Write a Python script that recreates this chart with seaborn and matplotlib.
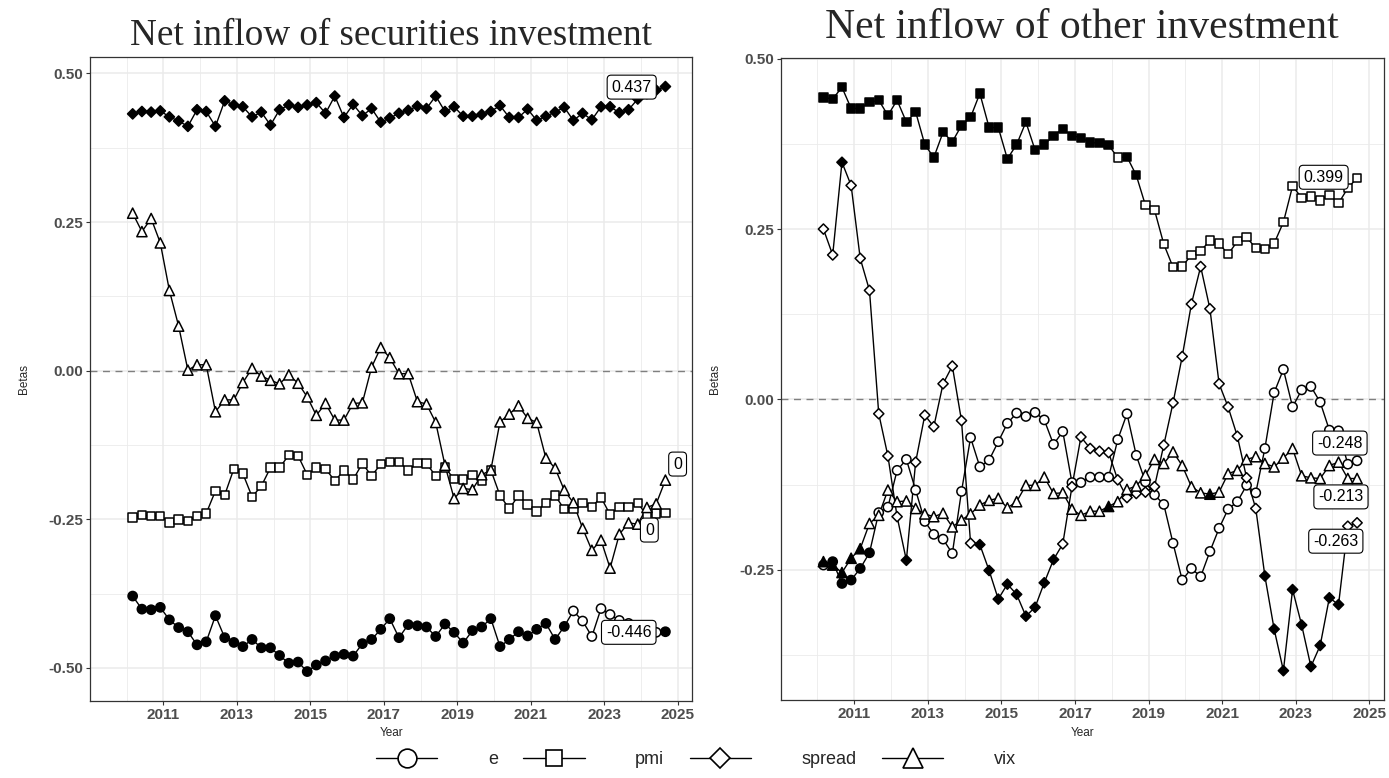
import numpy as np
import pandas as pd
import matplotlib
matplotlib.use("Agg")
import matplotlib.pyplot as plt
import seaborn as sns
from matplotlib.lines import Line2D
from matplotlib.ticker import FixedLocator

sns.set_theme(style="white")
plt.rcParams['font.family'] = ['Liberation Sans', 'DejaVu Sans']

# ---------------- data ----------------
dates = pd.date_range("2010-03-01", periods=59, freq="3MS")
xyear = dates.year + (dates.dayofyear - 1) / 365.25

# Net inflow of securities investment
sec_e = [-0.379, -0.401, -0.402, -0.398, -0.419, -0.432, -0.439, -0.461, -0.456, -0.412,
         -0.449, -0.457, -0.464, -0.452, -0.466, -0.466, -0.479, -0.492, -0.490, -0.506,
         -0.495, -0.488, -0.480, -0.477, -0.480, -0.459, -0.452, -0.435, -0.417, -0.449,
         -0.427, -0.429, -0.431, -0.447, -0.426, -0.440, -0.458, -0.437, -0.431, -0.417,
         -0.464, -0.452, -0.439, -0.446, -0.435, -0.425, -0.452, -0.430, -0.404, -0.421,
         -0.447, -0.400, -0.410, -0.420, -0.425, -0.430, -0.435, -0.440, -0.439]
sec_e_sig = [1] * 48 + [0] * 10 + [1]
sec_pmi = [-0.247, -0.243, -0.244, -0.244, -0.255, -0.250, -0.253, -0.244, -0.240, -0.202,
           -0.209, -0.165, -0.173, -0.212, -0.194, -0.163, -0.163, -0.142, -0.143, -0.175,
           -0.163, -0.165, -0.185, -0.168, -0.183, -0.156, -0.177, -0.157, -0.153, -0.153,
           -0.168, -0.155, -0.156, -0.177, -0.163, -0.182, -0.183, -0.175, -0.185, -0.167,
           -0.210, -0.232, -0.210, -0.225, -0.237, -0.222, -0.210, -0.233, -0.233, -0.223,
           -0.229, -0.213, -0.242, -0.229, -0.229, -0.222, -0.244, -0.240, -0.239]
sec_pmi_sig = [0] * 59
sec_spread = [0.432, 0.436, 0.435, 0.437, 0.427, 0.420, 0.411, 0.439, 0.436, 0.411,
              0.454, 0.447, 0.444, 0.427, 0.435, 0.413, 0.439, 0.447, 0.443, 0.447,
              0.451, 0.433, 0.462, 0.426, 0.448, 0.429, 0.441, 0.418, 0.425, 0.433,
              0.438, 0.445, 0.441, 0.462, 0.436, 0.444, 0.428, 0.428, 0.431, 0.436,
              0.446, 0.426, 0.426, 0.440, 0.421, 0.428, 0.435, 0.443, 0.421, 0.433,
              0.422, 0.444, 0.444, 0.434, 0.439, 0.457, 0.466, 0.472, 0.478]
sec_spread_sig = [1] * 59
sec_vix = [0.265, 0.234, 0.256, 0.215, 0.135, 0.075, 0.001, 0.010, 0.010, -0.069,
           -0.049, -0.049, -0.020, 0.004, -0.009, -0.016, -0.022, -0.007, -0.021, -0.044,
           -0.075, -0.055, -0.083, -0.083, -0.055, -0.054, 0.006, 0.039, 0.022, -0.005,
           -0.005, -0.052, -0.056, -0.087, -0.159, -0.215, -0.198, -0.200, -0.175, -0.167,
           -0.086, -0.073, -0.059, -0.080, -0.087, -0.147, -0.164, -0.201, -0.222, -0.265,
           -0.302, -0.285, -0.332, -0.275, -0.256, -0.258, -0.230, -0.224, -0.184]
sec_vix_sig = [0] * 59
sec_labels = ["0.437", "0", "0", "-0.446"]
sec_label_x = [2023.75, 2025.0, 2024.23, 2023.67]
sec_label_y = [0.477, -0.157, -0.268, -0.440]

# Net inflow of other investment
oth_e = [-0.243, -0.238, -0.270, -0.265, -0.248, -0.225, -0.166, -0.158, -0.104, -0.088,
         -0.133, -0.179, -0.198, -0.205, -0.226, -0.135, -0.056, -0.099, -0.089, -0.062,
         -0.035, -0.020, -0.025, -0.019, -0.030, -0.066, -0.047, -0.122, -0.122, -0.114,
         -0.114, -0.114, -0.059, -0.021, -0.082, -0.121, -0.140, -0.154, -0.211, -0.265,
         -0.248, -0.260, -0.223, -0.189, -0.161, -0.150, -0.126, -0.137, -0.072, 0.010,
         0.044, -0.011, 0.014, 0.019, -0.004, -0.045, -0.046, -0.095, -0.090]
oth_e_sig = [0, 1, 1, 1, 1, 1] + [0] * 53
oth_pmi = [0.443, 0.441, 0.458, 0.427, 0.427, 0.436, 0.439, 0.417, 0.439, 0.407,
           0.422, 0.374, 0.355, 0.392, 0.378, 0.402, 0.414, 0.449, 0.399, 0.399,
           0.353, 0.374, 0.407, 0.366, 0.374, 0.387, 0.397, 0.387, 0.384, 0.377,
           0.376, 0.373, 0.355, 0.356, 0.329, 0.285, 0.278, 0.228, 0.194, 0.195,
           0.212, 0.218, 0.233, 0.229, 0.213, 0.232, 0.238, 0.222, 0.221, 0.229,
           0.260, 0.313, 0.296, 0.298, 0.292, 0.300, 0.288, 0.310, 0.325]
oth_pmi_sig = [1] * 32 + [0, 1, 1] + [0] * 24
oth_spread = [0.250, 0.212, 0.348, 0.314, 0.207, 0.160, -0.021, -0.083, -0.172, -0.236,
              -0.092, -0.023, -0.040, 0.023, 0.049, -0.031, -0.211, -0.213, -0.251, -0.293,
              -0.271, -0.286, -0.318, -0.305, -0.269, -0.235, -0.212, -0.128, -0.055, -0.072,
              -0.076, -0.078, -0.118, -0.144, -0.138, -0.136, -0.128, -0.067, -0.005, 0.063,
              0.140, 0.195, 0.133, 0.023, -0.011, -0.054, -0.115, -0.160, -0.259, -0.337,
              -0.398, -0.279, -0.331, -0.392, -0.361, -0.291, -0.301, -0.186, -0.181]
oth_spread_sig = ([0, 0, 1, 0, 0, 0, 0, 0, 0, 1] + [0] * 7 + [1] * 9 + [0] * 22
                  + [1] * 9 + [0, 0])
oth_vix = [-0.238, -0.243, -0.254, -0.233, -0.219, -0.182, -0.170, -0.133, -0.150, -0.149,
           -0.160, -0.168, -0.172, -0.167, -0.187, -0.177, -0.168, -0.155, -0.148, -0.145,
           -0.159, -0.150, -0.126, -0.126, -0.114, -0.138, -0.137, -0.161, -0.170, -0.164,
           -0.164, -0.157, -0.150, -0.132, -0.127, -0.111, -0.088, -0.094, -0.077, -0.097,
           -0.128, -0.137, -0.139, -0.136, -0.109, -0.104, -0.088, -0.084, -0.094, -0.099,
           -0.086, -0.072, -0.112, -0.115, -0.116, -0.097, -0.092, -0.116, -0.116]
oth_vix_sig = [1] * 5 + [0] * 26 + [1] + [0] * 10 + [1] + [0] * 16
oth_labels = ["0.399", "-0.248", "-0.213", "-0.263"]
oth_label_x = [2023.76, 2024.20, 2024.23, 2024.09]
oth_label_y = [0.326, -0.064, -0.143, -0.208]

series_names = ["e", "pmi", "spread", "vix"]
titles = ["Net inflow of securities investment", "Net inflow of other investment"]
xtick_years = [2011, 2013, 2015, 2017, 2019, 2021, 2023, 2025]

# ---------------- style ----------------
MARK = {"e": "o", "pmi": "s", "spread": "D", "vix": "^"}
SIZE = {"e": 44, "pmi": 36, "spread": 27, "vix": 54}
LEG_MS = {"e": 13.5, "pmi": 11.5, "spread": 10, "vix": 14}


def build_df(vals, sigs):
    frames = []
    for name, v, s in zip(series_names, vals, sigs):
        frames.append(pd.DataFrame({"x": xyear, "beta": v, "var": name,
                                    "sig": ["sig" if k else "ns" for k in s]}))
    return pd.concat(frames, ignore_index=True)


def draw_panel(ax, df, ylim, ymajor, yminor, labels, lx, ly):
    ax.set_facecolor("white")
    ax.axhline(0, color="#7F7F7F", lw=1.0, ls=(0, (5, 4)), zorder=1)
    sns.lineplot(data=df, x="x", y="beta", units="var", estimator=None, sort=False,
                 color="black", lw=1.0, ax=ax, legend=False, zorder=2)
    for name in series_names:
        sub = df[df["var"] == name]
        sns.scatterplot(data=sub, x="x", y="beta", hue="sig",
                        palette={"sig": "black", "ns": "white"},
                        marker=MARK[name], s=SIZE[name], edgecolor="black",
                        linewidth=1.1, ax=ax, legend=False, zorder=3)
    for t, x, y in zip(labels, lx, ly):
        ax.text(x, y, t, ha="center", va="center", fontsize=11.5, color="black",
                zorder=6,
                bbox=dict(boxstyle="round,pad=0.28,rounding_size=0.25", fc="white",
                          ec="black", lw=0.8))
    ax.set_xlim(2009.0, 2025.4)
    ax.set_ylim(*ylim)
    ax.xaxis.set_major_locator(FixedLocator(xtick_years))
    ax.xaxis.set_minor_locator(FixedLocator([y - 1 for y in xtick_years]))
    ax.set_xticklabels([str(y) for y in xtick_years])
    ax.yaxis.set_major_locator(FixedLocator(ymajor))
    ax.yaxis.set_minor_locator(FixedLocator(yminor))
    ax.set_yticklabels([f"{v:.2f}" for v in ymajor])
    ax.grid(which="major", color="#EBEBEB", lw=1.1, zorder=0)
    ax.grid(which="minor", color="#EBEBEB", lw=0.6, zorder=0)
    ax.set_axisbelow(True)
    ax.tick_params(axis="both", which="major", length=3, width=0.8, color="#333333",
                   labelsize=11, labelcolor="#4D4D4D", pad=2, bottom=True, left=True)
    ax.tick_params(axis="both", which="minor", length=0)
    for lab in ax.get_xticklabels() + ax.get_yticklabels():
        lab.set_fontweight("bold")
    for sp in ax.spines.values():
        sp.set_color("#333333")
        sp.set_linewidth(0.9)
    ax.set_xlabel("Year", fontsize=8.5, labelpad=4)
    ax.set_ylabel("Betas", fontsize=8.5, labelpad=13)


W, H = 1389, 778
fig = plt.figure(figsize=(W / 100, H / 100), dpi=100)
ax1 = fig.add_axes([90 / W, 1 - 700.7 / H, (692.3 - 90) / W, (700.7 - 57.4) / H])
ax2 = fig.add_axes([780.7 / W, 1 - 700 / H, (1384 - 780.7) / W, (700 - 58) / H])

df1 = build_df([sec_e, sec_pmi, sec_spread, sec_vix],
               [sec_e_sig, sec_pmi_sig, sec_spread_sig, sec_vix_sig])
df2 = build_df([oth_e, oth_pmi, oth_spread, oth_vix],
               [oth_e_sig, oth_pmi_sig, oth_spread_sig, oth_vix_sig])

draw_panel(ax1, df1, (-0.555, 0.527), [-0.5, -0.25, 0.0, 0.25, 0.5],
           [-0.375, -0.125, 0.125, 0.375], sec_labels, sec_label_x, sec_label_y)
draw_panel(ax2, df2, (-0.441, 0.501), [-0.25, 0.0, 0.25, 0.5],
           [-0.375, -0.125, 0.125, 0.375], oth_labels, oth_label_x, oth_label_y)

fig.text(391 / W, 1 - 45 / H, titles[0], ha="center", va="baseline",
         family="Liberation Serif", fontsize=26.7)
fig.text(1082 / W, 1 - 38 / H, titles[1], ha="center", va="baseline",
         family="Liberation Serif", fontsize=30)

handles = [Line2D([0], [0], color="black", lw=1.0, marker=MARK[n], markersize=LEG_MS[n],
                  mfc="white", mec="black", mew=1.2) for n in series_names]
fig.legend(handles, series_names, loc="center", bbox_to_anchor=(696 / W, 1 - 760 / H),
           ncol=4, frameon=False, fontsize=13, handlelength=3.4, handletextpad=2.8,
           columnspacing=1.4)

fig.savefig("out.png", dpi=100, facecolor="white")
